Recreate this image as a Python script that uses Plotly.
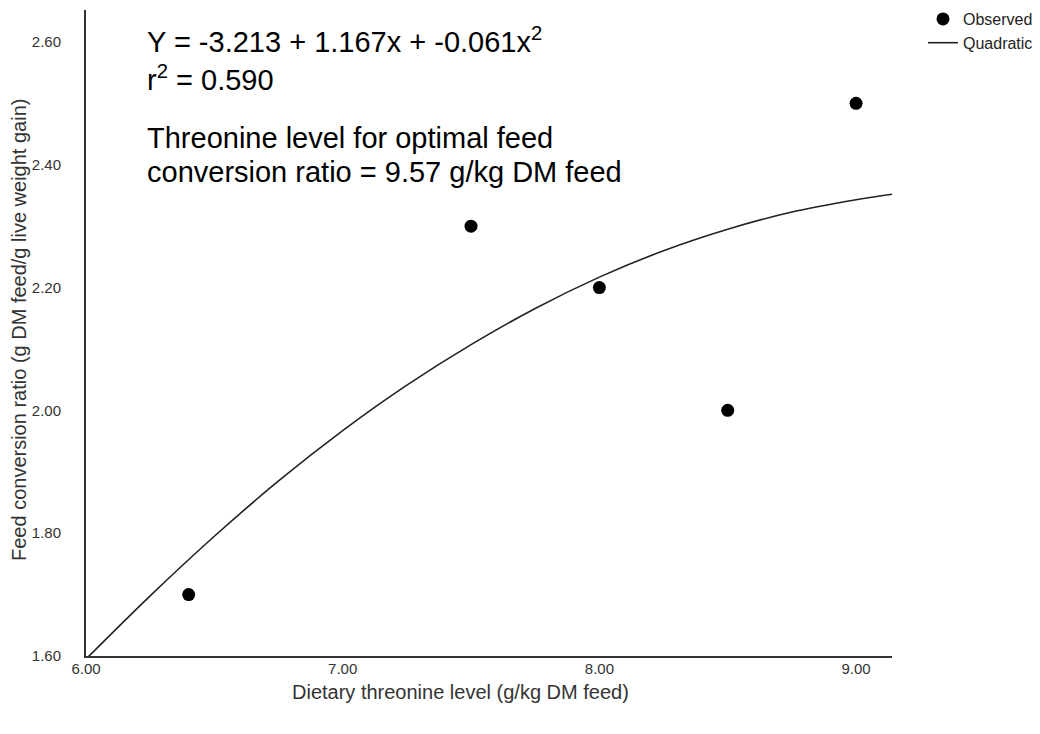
import plotly.graph_objects as go

# Observed data
obs_x = [6.4, 7.5, 8.0, 8.5, 9.0]
obs_y = [1.70, 2.30, 2.20, 2.00, 2.50]

# Quadratic fit curve
fit_x = [6.00, 6.25, 6.50, 6.75, 7.00, 7.25, 7.50, 7.75, 8.00, 8.25, 8.50, 8.75, 9.00, 9.14]
fit_y = [1.595, 1.698, 1.795, 1.885, 1.967, 2.041, 2.107, 2.166, 2.217, 2.260, 2.295, 2.323, 2.343, 2.352]

x_ticks = [6.0, 7.0, 8.0, 9.0]
y_ticks = [1.6, 1.8, 2.0, 2.2, 2.4, 2.6]

FONT = "Liberation Sans, Arial, sans-serif"

# plot area in page pixels (page has an 8px body margin)
L, T, W, H = 78, 2, 806, 646

fig = go.Figure()
fig.add_trace(go.Scatter(x=obs_x, y=obs_y, mode="markers", name="Observed",
                         marker=dict(color="black", size=13)))
fig.add_trace(go.Scatter(x=fit_x, y=fit_y, mode="lines", name="Quadratic",
                         line=dict(color="#222222", width=1.6, shape="spline")))

fig.update_layout(
    width=1040, height=734,
    margin=dict(l=L, r=1040 - L - W, t=T, b=734 - T - H, autoexpand=False),
    plot_bgcolor="white", paper_bgcolor="white",
    font=dict(family=FONT, color="#222222"),
    showlegend=True,
    legend=dict(x=(923 - 86) / W, y=1.0 + 8 / H, xanchor="left", yanchor="top",
                font=dict(size=16, family=FONT, color="#222222"),
                bgcolor="rgba(0,0,0,0)", tracegroupgap=0, itemwidth=30),
    xaxis=dict(range=[6.0, 9.14], tickvals=x_ticks, ticktext=[f"{v:.2f}" for v in x_ticks],
               showgrid=False, zeroline=False, showline=True, linecolor="#333333", linewidth=2,
               ticks="", tickfont=dict(size=15, color="#333333"), ticklabelstandoff=-2,
               automargin=False),
    yaxis=dict(range=[1.6, 2.652], tickvals=y_ticks, ticktext=[f"{v:.2f}" for v in y_ticks],
               showgrid=False, zeroline=False, showline=True, linecolor="#333333", linewidth=2,
               ticks="", tickfont=dict(size=15, color="#333333"), ticklabelstandoff=20,
               automargin=False),
)

# axis titles as annotations (page coords relative to plot area)
fig.add_annotation(xref="paper", yref="paper", x=(460 - 86) / W, y=-(692 - 656) / H,
                   text="Dietary threonine level (g/kg DM feed)", showarrow=False,
                   xanchor="center", yanchor="middle", font=dict(size=20, color="#333333"))
fig.add_annotation(xref="paper", yref="paper", x=-(86 - 19) / W, y=1 - (330 - 10) / H,
                   text="Feed conversion ratio (g DM feed/g live weight gain)", showarrow=False,
                   textangle=-90, xanchor="center", yanchor="middle",
                   font=dict(size=20, color="#333333"))

ann_lines = [
    ("Y = -3.213 + 1.167x + -0.061x<sup>2</sup>", 40),
    ("r<sup>2</sup> = 0.590", 78),
    ("Threonine level for optimal feed", 138),
    ("conversion ratio = 9.57 g/kg DM feed", 172),
]
for txt, py in ann_lines:
    fig.add_annotation(xref="paper", yref="paper", x=(145 - 86) / W, y=1 - (py - 10) / H,
                       text=txt, showarrow=False, xanchor="left", yanchor="middle",
                       font=dict(size=29, color="black"))

fig.write_html("out.html")
